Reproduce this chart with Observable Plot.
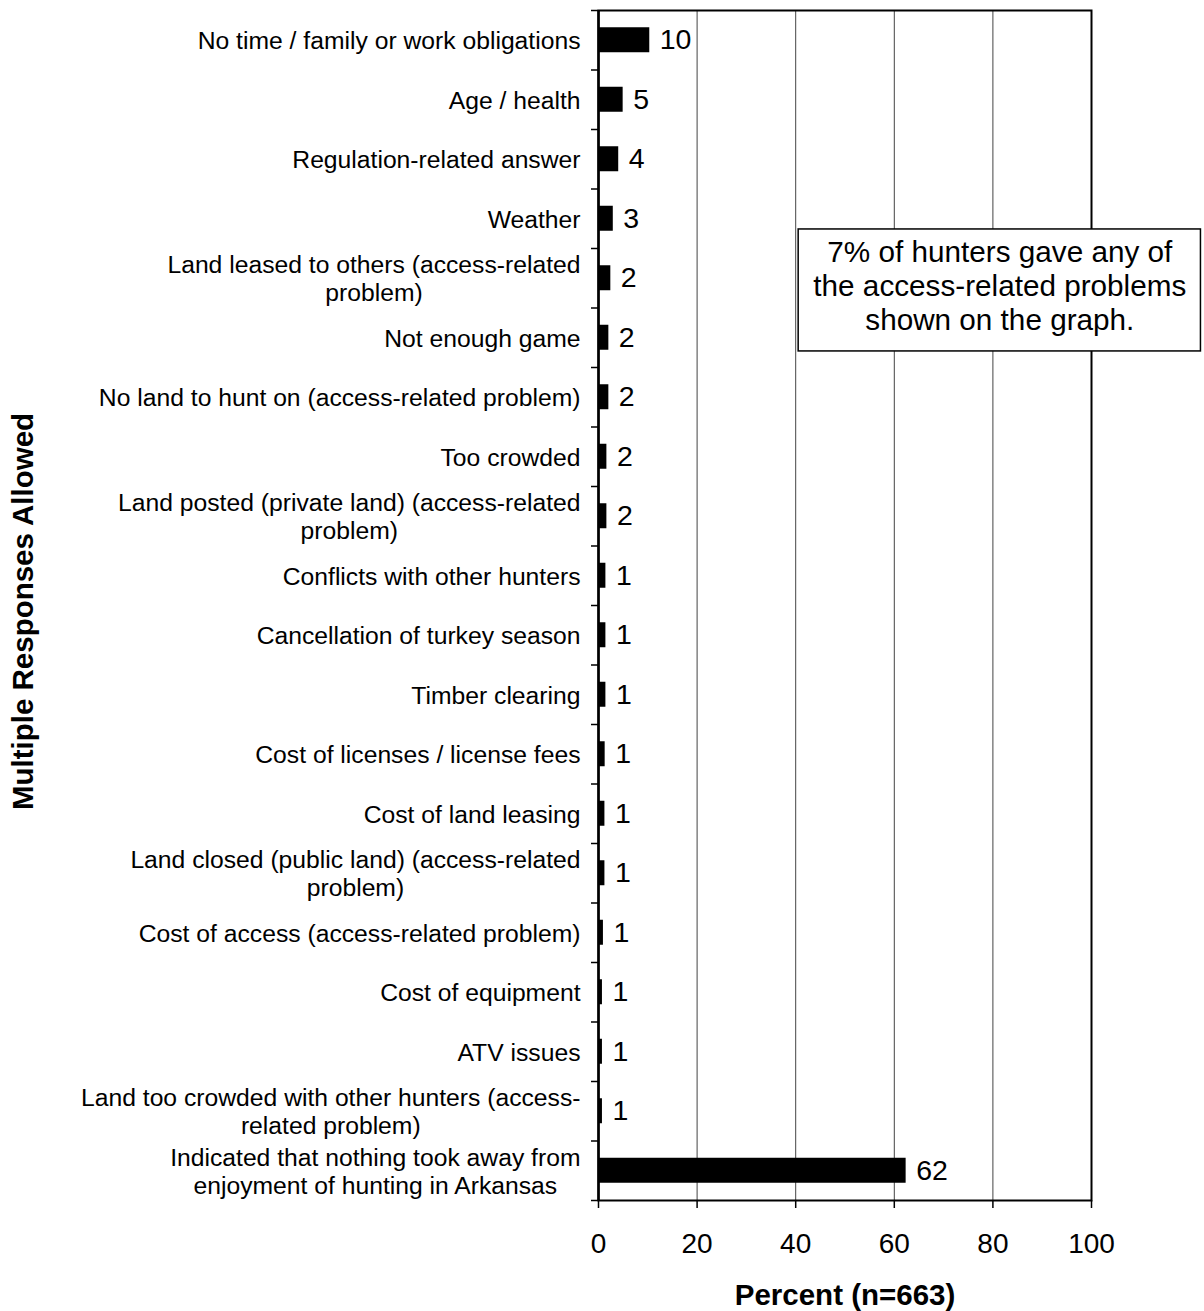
<!DOCTYPE html>
<html>
<head>
<meta charset="utf-8">
<script src="https://cdn.jsdelivr.net/npm/d3@7"></script>
<script src="https://cdn.jsdelivr.net/npm/@observablehq/plot@0.6"></script>
<style>
  html, body { margin: 0; padding: 0; background: #fff; }
  #chart { width: 1204px; height: 1311px; }
</style>
</head>
<body>
<div id="chart"></div>
<script>
const categories = [
  "No time / family or work obligations",
  "Age / health",
  "Regulation-related answer",
  "Weather",
  "Land leased to others (access-related\nproblem)",
  "Not enough game",
  "No land to hunt on (access-related problem)",
  "Too crowded",
  "Land posted (private land) (access-related\nproblem)",
  "Conflicts with other hunters",
  "Cancellation of turkey season",
  "Timber clearing",
  "Cost of licenses / license fees",
  "Cost of land leasing",
  "Land closed (public land) (access-related\nproblem)",
  "Cost of access (access-related problem)",
  "Cost of equipment",
  "ATV issues",
  "Land too crowded with other hunters (access-\nrelated problem)",
  "Indicated that nothing took away from\nenjoyment of hunting in Arkansas"
];
const values = [10.4, 5.0, 4.1, 3.0, 2.5, 2.1, 2.1, 1.7, 1.7, 1.5, 1.5, 1.5, 1.35, 1.3, 1.3, 1.0, 0.8, 0.8, 0.8, 62.4];
const valueLabels = ["10", "5", "4", "3", "2", "2", "2", "2", "2", "1", "1", "1", "1", "1", "1", "1", "1", "1", "1", "62"];
const xTicks = [0, 20, 40, 60, 80, 100];
const gridValues = [20, 40, 60, 80];
const xTitle = "Percent (n=663)";
const yTitle = "Multiple Responses Allowed";
const noteText = "7% of hunters gave any of\nthe access-related problems\nshown on the graph.";
// annotation box placement, in data units (x: percent, y: row index)
const noteBox = {x1: 40.6, x2: 122.2, y1: 3.18, y2: 5.23, cx: 81.4, cy: 4.12};

const rows = categories.map((c, i) => ({i, category: c, value: values[i], label: valueLabels[i]}));
const half = 0.21;

const chart = Plot.plot({
  width: 1204,
  height: 1311,
  marginLeft: 598,
  marginRight: 113,
  marginTop: 10,
  marginBottom: 111,
  style: {fontFamily: "'Liberation Sans', Arial, sans-serif", background: "#fff", color: "#000"},
  x: {domain: [0, 100], label: null},
  y: {domain: [-0.5, categories.length - 0.5], reverse: true, label: null},
  marks: [
    Plot.ruleX(gridValues, {stroke: "#444", strokeWidth: 1}),
    Plot.rectX(rows, {x1: 0, x2: "value", y1: d => d.i - half, y2: d => d.i + half, fill: "#000"}),
    Plot.text(rows, {x: "value", y: "i", text: "label", textAnchor: "start", dx: 10, fontSize: 28.5, fill: "#000"}),
    Plot.text(rows, {x: 0, y: "i", text: "category", textAnchor: "end", dx: -18, fontSize: 24.7, lineHeight: 1.14, fill: "#000"}),
    Plot.frame({stroke: "#000", strokeWidth: 2}),
    Plot.ruleX([0], {stroke: "#000", strokeWidth: 2.5}),
    Plot.rect([noteBox], {x1: "x1", x2: "x2", y1: "y1", y2: "y2", fill: "#fff", stroke: "#000", strokeWidth: 1.5, clip: false}),
    Plot.text([noteBox], {x: "cx", y: "cy", text: () => noteText, fontSize: 29.7, lineHeight: 1.15, fill: "#000", textAnchor: "middle"}),
    Plot.axisY({ticks: d3.range(-0.5, categories.length, 1), tickSize: 7, tickFormat: () => "", label: null, strokeWidth: 1.5}),
    Plot.axisX({ticks: xTicks, tickSize: 8, tickPadding: 25, fontSize: 28, label: null, strokeWidth: 1.5}),
    Plot.text([xTitle], {frameAnchor: "bottom", lineAnchor: "bottom", dy: 104, textAnchor: "middle", text: d => d, fontSize: 29.5, fontWeight: "bold", fill: "#000"}),
    Plot.text([yTitle], {frameAnchor: "left", dx: -575, dy: 6, rotate: -90, textAnchor: "middle", text: d => d, fontSize: 29.5, fontWeight: "bold", fill: "#000"})
  ]
});

document.getElementById("chart").appendChild(chart);

// center the lines of wrapped category labels within their right-aligned block
const wrapped = new Set(categories.filter(c => c.includes("\n")).map(c => c.replace("\n", "")));
chart.querySelectorAll("text").forEach(t => {
  const spans = Array.from(t.querySelectorAll("tspan"));
  if (spans.length > 1 && wrapped.has(t.textContent)) {
    const widths = spans.map(s => s.getComputedTextLength());
    const W = Math.max(...widths);
    spans.forEach((s, k) => s.setAttribute("x", -(W - widths[k]) / 2));
  }
});
</script>
</body>
</html>
